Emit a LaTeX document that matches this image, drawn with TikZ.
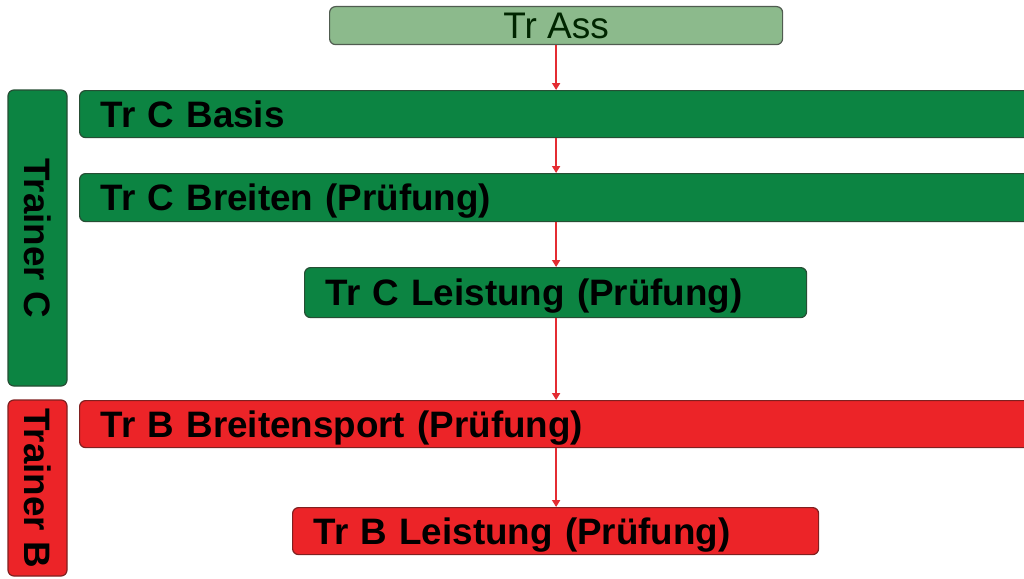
\documentclass[tikz,border=0pt]{standalone}
\usepackage{fontspec}
\setmainfont{Liberation Sans}
\usetikzlibrary{arrows.meta}
\definecolor{cgreen}{RGB}{12,132,66}
\definecolor{cgreenline}{RGB}{38,78,52}
\definecolor{lgreen}{RGB}{140,186,140}
\definecolor{lgreenline}{RGB}{80,92,80}
\definecolor{bred}{RGB}{236,36,40}
\definecolor{bredline}{RGB}{128,32,32}
\definecolor{arrowred}{RGB}{228,44,50}
\begin{document}
\begin{tikzpicture}[x=1pt,y=-1pt,
  box/.style={rounded corners=6pt, line width=1.2pt, inner ysep=0pt,
    font=\fontsize{36.8}{40}\selectfont\bfseries, text height=26pt, text depth=0pt},
  greenbox/.style={box, fill=cgreen, draw=cgreenline},
  redbox/.style={box, fill=bred, draw=bredline},
  leftbar/.style={anchor=north west, inner xsep=21pt, align=left},
  sidebox/.style={inner xsep=0pt, rotate=-90, minimum height=59pt},
  conn/.style={draw=arrowred, line width=1.8pt,
    -{Triangle[width=8pt,length=7pt]}}]
\useasboundingbox (0,0) rectangle (1024,578);
\clip (0,0) rectangle (1024,578);
\fill[white] (0,0) rectangle (1024,578);

% entry level
\node[box, fill=lgreen, draw=lgreenline, anchor=north west,
  minimum width=453pt, minimum height=38pt, inner xsep=0pt,
  font=\fontsize{37}{40}\selectfont, text=black!85!green]
  (ass) at (329,6) {Tr Ass};

% trainer C track
\node[greenbox, leftbar, text width=958pt, minimum height=47pt]
  (cbasis) at (79,90) {Tr C Basis};
\node[greenbox, leftbar, text width=958pt, minimum height=48pt]
  (cbreiten) at (79,173) {Tr C Breiten (Prüfung)};
\node[greenbox, leftbar, text width=460pt, minimum height=50pt]
  (cleist) at (304,267) {Tr C Leistung (Prüfung)};

% trainer B track
\node[redbox, leftbar, text width=958pt, minimum height=47pt]
  (bbreiten) at (79,400) {Tr B Breitensport (Prüfung)};
\node[redbox, leftbar, text width=484pt, minimum height=47pt]
  (bleist) at (292,507) {Tr B Leistung (Prüfung)};

% side labels
\node[greenbox, sidebox, minimum width=296pt] (trc) at (37.5,238) {Trainer C};
\node[redbox, sidebox, minimum width=176pt] (trb) at (37.5,488) {Trainer B};

% progression arrows
\draw[conn] (ass.south) -- (ass.south |- cbasis.north);
\draw[conn] (ass.south |- cbasis.south) -- (ass.south |- cbreiten.north);
\draw[conn] (ass.south |- cbreiten.south) -- (ass.south |- cleist.north);
\draw[conn] (ass.south |- cleist.south) -- (ass.south |- bbreiten.north);
\draw[conn] (ass.south |- bbreiten.south) -- (ass.south |- bleist.north);
\end{tikzpicture}
\end{document}
